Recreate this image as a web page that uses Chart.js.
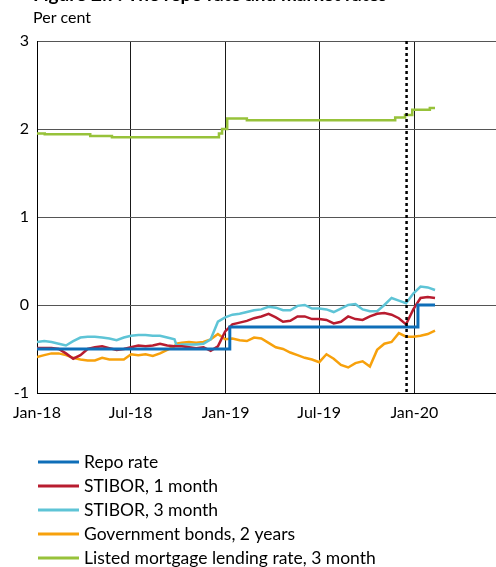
<!DOCTYPE html>
<html>
<head>
<meta charset="utf-8">
<script src="https://cdn.jsdelivr.net/npm/chart.js@4"></script>
<style>
  html, body { margin: 0; padding: 0; background: #fff; }
  #wrap { position: relative; width: 496px; height: 567px; }
</style>
</head>
<body>
<div id="wrap"><canvas id="rates-chart" width="496" height="567"></canvas></div>
<script>
// Market rates, read roughly every two weeks
var marketDates = [
    "2018-01-01", "2018-01-15", "2018-01-29", "2018-02-12", "2018-02-26", "2018-03-12", "2018-03-26",
    "2018-04-09", "2018-04-23", "2018-05-07", "2018-05-21", "2018-06-04", "2018-06-18", "2018-07-02",
    "2018-07-16", "2018-07-30", "2018-08-13", "2018-08-27", "2018-09-10", "2018-09-24", "2018-09-28",
    "2018-10-08", "2018-10-22", "2018-11-05", "2018-11-19", "2018-12-03", "2018-12-17", "2018-12-31",
    "2019-01-14", "2019-01-28", "2019-02-11", "2019-02-25", "2019-03-11", "2019-03-25", "2019-04-08",
    "2019-04-22", "2019-05-06", "2019-05-20", "2019-06-03", "2019-06-17", "2019-07-01", "2019-07-15",
    "2019-07-29", "2019-08-12", "2019-08-26", "2019-09-09", "2019-09-23", "2019-10-07", "2019-10-21",
    "2019-11-04", "2019-11-18", "2019-12-02", "2019-12-16", "2019-12-30", "2020-01-13", "2020-01-27",
    "2020-02-10"
];
var stibor1m = [
    -0.49, -0.49, -0.49, -0.50, -0.55, -0.61, -0.57, -0.50, -0.48, -0.47, -0.49, -0.51, -0.50, -0.48,
    -0.46, -0.47, -0.46, -0.44, -0.46, -0.47, -0.47,
    -0.47, -0.48, -0.49, -0.48, -0.52, -0.47, -0.30, -0.22, -0.20, -0.18, -0.15, -0.13, -0.10, -0.14,
    -0.19, -0.18, -0.13, -0.13, -0.16, -0.16, -0.17, -0.21, -0.19, -0.13, -0.16, -0.17, -0.13, -0.10,
    -0.09, -0.11, -0.15, -0.22, -0.05, 0.08, 0.09, 0.08
];
var stibor3m = [
    -0.42, -0.41, -0.42, -0.44, -0.46, -0.41, -0.37, -0.36, -0.36, -0.37, -0.38, -0.40, -0.37, -0.35,
    -0.34, -0.34, -0.35, -0.35, -0.37, -0.39, -0.46,
    -0.45, -0.45, -0.45, -0.44, -0.39, -0.19, -0.14, -0.11, -0.10, -0.08, -0.06, -0.05, -0.02, -0.03,
    -0.06, -0.06, -0.01, 0.00, -0.04, -0.04, -0.05, -0.08, -0.04, 0.00, 0.01, -0.05, -0.07, -0.07,
    0.00, 0.08, 0.05, 0.02, 0.13, 0.21, 0.20, 0.17
];
var govBonds2y = [
    -0.59, -0.57, -0.55, -0.55, -0.57, -0.60, -0.62, -0.63, -0.63, -0.60, -0.62, -0.62, -0.62, -0.56,
    -0.57, -0.56, -0.58, -0.55, -0.51, -0.47, -0.44,
    -0.43, -0.42, -0.43, -0.42, -0.39, -0.33, -0.39, -0.38, -0.40, -0.41, -0.37, -0.38, -0.43, -0.48,
    -0.50, -0.54, -0.57, -0.60, -0.62, -0.65, -0.56, -0.61, -0.68, -0.71, -0.66, -0.64, -0.70, -0.51,
    -0.44, -0.42, -0.32, -0.36, -0.36, -0.35, -0.33, -0.29
];

// Step series: value holds from each date to the next
var repoDates = ["2018-01-01", "2019-01-09", "2020-01-08", "2020-02-10"];
var repoRate = [-0.50, -0.25, 0.00, 0.00];
var mortgageDates = [
    "2018-01-01", "2018-01-16", "2018-04-14", "2018-05-26", "2018-12-19", "2018-12-25", "2019-01-04",
    "2019-02-11", "2019-11-25", "2019-12-14", "2019-12-28", "2020-01-31", "2020-02-10"
];
var mortgageRate = [1.95, 1.94, 1.92, 1.905, 1.95, 2.00, 2.12, 2.10, 2.13, 2.16, 2.22, 2.24, 2.24];

var tickDates = ["2018-01-01", "2018-07-01", "2019-01-01", "2019-07-01", "2020-01-01"];
var tickLabels = ["Jan-18", "Jul-18", "Jan-19", "Jul-19", "Jan-20"];
var axisEnd = "2020-06-07";
var markerDate = "2019-12-17";

var FONT = "Lato, 'Open Sans', sans-serif";

function dayNum(s) {
    return (Date.parse(s) - Date.parse("2018-01-01")) / 864e5;
}
function points(dates, values) {
    return dates.map(function (d, i) { return {x: dayNum(d), y: values[i]}; });
}

// Dotted vertical marker + titles + legend, drawn on the canvas
var extras = {
    id: "extras",
    afterDatasetsDraw: function (chart) {
        var c = chart.ctx, a = chart.chartArea;
        var x = chart.scales.x.getPixelForValue(dayNum(markerDate));
        c.save();
        c.strokeStyle = "#000";
        c.lineWidth = 2.5;
        c.setLineDash([3, 3]);
        c.beginPath();
        c.moveTo(x, a.top);
        c.lineTo(x, a.bottom);
        c.stroke();
        c.restore();
    },
    afterDraw: function (chart) {
        var c = chart.ctx;
        c.save();
        c.fillStyle = "#000";
        c.textAlign = "left";
        c.textBaseline = "alphabetic";
        c.font = "bold 19px " + FONT;
        c.fillText("Figure 2:7. The repo rate and market rates", 33, 1);
        c.font = "16px " + FONT;
        c.fillText("Per cent", 33, 23);

        c.textBaseline = "middle";
        c.font = "17.5px " + FONT;
        chart.data.datasets.forEach(function (ds, i) {
            var y = 462 + i * 24;
            c.strokeStyle = ds.borderColor;
            c.lineWidth = 3;
            c.beginPath();
            c.moveTo(38, y);
            c.lineTo(79, y);
            c.stroke();
            c.fillStyle = "#000";
            c.fillText(ds.label, 84, y);
        });
        c.restore();
    }
};

var ctx = document.getElementById("rates-chart").getContext("2d");
var chart = new Chart(ctx, {
    type: "line",
    data: {
        datasets: [{
            label: "Repo rate",
            data: points(repoDates, repoRate),
            borderColor: "#0e6eb8",
            borderWidth: 3,
            stepped: true
        }, {
            label: "STIBOR, 1 month",
            data: points(marketDates, stibor1m),
            borderColor: "#b81c2f",
            borderWidth: 2.5
        }, {
            label: "STIBOR, 3 month",
            data: points(marketDates, stibor3m),
            borderColor: "#5ec4d6",
            borderWidth: 2.5
        }, {
            label: "Government bonds, 2 years",
            data: points(marketDates, govBonds2y),
            borderColor: "#f7a10c",
            borderWidth: 2.5
        }, {
            label: "Listed mortgage lending rate, 3 month",
            data: points(mortgageDates, mortgageRate),
            borderColor: "#97c23a",
            borderWidth: 2.5,
            stepped: true
        }]
    },
    options: {
        responsive: false,
        animation: false,
        elements: {point: {radius: 0}, line: {tension: 0}},
        layout: {padding: {top: 41, right: 0, left: 0, bottom: 144}},
        plugins: {legend: {display: false}, tooltip: {enabled: false}},
        scales: {
            x: {
                type: "linear",
                min: 0,
                max: dayNum(axisEnd),
                afterBuildTicks: function (scale) {
                    scale.ticks = tickDates.map(function (d) { return {value: dayNum(d)}; });
                },
                afterFit: function (scale) { scale.height = 30; },
                grid: {color: "#1a1a1a", lineWidth: 1, drawTicks: false},
                border: {color: "#000", width: 1},
                ticks: {
                    padding: 10,
                    maxRotation: 0,
                    autoSkip: false,
                    color: "#000",
                    font: {family: FONT, size: 16},
                    callback: function (v, i) { return tickLabels[i]; }
                }
            },
            y: {
                min: -1,
                max: 3,
                afterFit: function (scale) { scale.width = 37; },
                grid: {color: "#555", lineWidth: 1, drawTicks: false},
                border: {color: "#000", width: 1},
                ticks: {
                    stepSize: 1,
                    padding: 8,
                    color: "#000",
                    font: {family: FONT, size: 16}
                }
            }
        }
    },
    plugins: [extras]
});
</script>
</body>
</html>
